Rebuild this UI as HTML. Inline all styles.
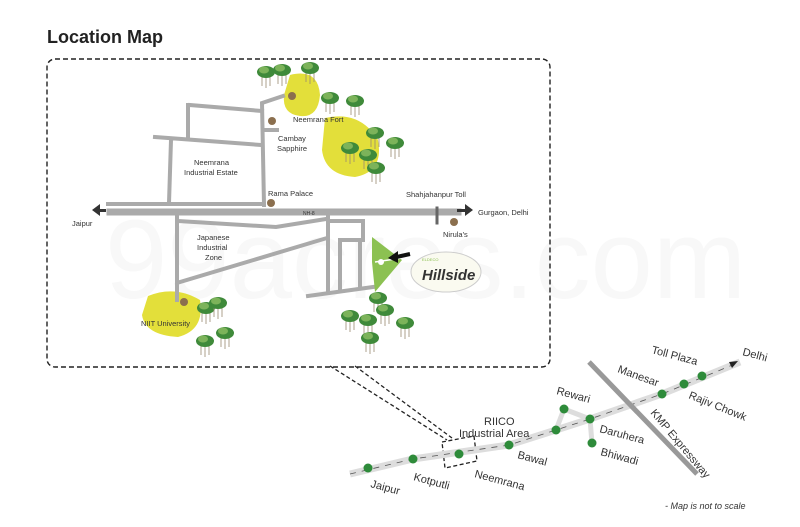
<!DOCTYPE html><html><head><style>body{margin:0;background:#fff}svg{display:block}text{font-family:"Liberation Sans",sans-serif}</style></head><body>
<svg width="800" height="527" viewBox="0 0 800 527" xmlns="http://www.w3.org/2000/svg">
<defs>
<g id="t"><g stroke="#9a8a70" stroke-width="0.8"><line x1="-4" y1="0" x2="-4" y2="12"/><line x1="0" y1="0" x2="0" y2="14"/><line x1="4" y1="0" x2="4" y2="12"/></g><ellipse cx="0" cy="-2" rx="9" ry="6" fill="#3f8a3a"/><ellipse cx="-2" cy="-4" rx="5" ry="3.5" fill="#7cb35a"/></g>
</defs>
<text x="47" y="43" font-size="18" font-weight="bold" fill="#222">Location Map</text>
<text x="105" y="298" font-size="112" fill="#f8f8f8">99acres.com</text>
<rect x="47" y="59" width="503" height="308" rx="8" fill="none" stroke="#222" stroke-width="1.4" stroke-dasharray="5,3"/>
<!-- yellow blobs -->
<path d="M290 75 Q318 68 320 95 Q318 118 300 116 Q282 114 284 95 Z" fill="#e3df3a"/>
<path d="M325 118 Q360 110 378 140 Q384 172 355 177 Q325 175 322 150 Z" fill="#e3df3a"/>
<path d="M148 296 Q175 285 200 300 Q205 330 178 337 Q145 335 142 315 Z" fill="#e3df3a"/>
<!-- roads -->
<g stroke="#aaa" fill="none" stroke-linecap="square">
<path d="M110 212 H458" stroke-width="7"/>
<path d="M108 204 H264" stroke-width="4"/>
<path d="M264 205 L262 103 L283 96" stroke-width="4"/>
<path d="M190 105 L262 111 M188 105 V138 M155 137 L261 145 M171 140 L169 203 M263 130 H277" stroke-width="4"/>
<path d="M177 214 V300 M178 221 L276 227 L326 219 M180 282 L327 238 M328 214 V292 M308 296 L373 287 M330 221 H363 V240 M340 240 V288 M340 240 H360 V287" stroke-width="4"/>
<path d="M437 208 V223" stroke="#666" stroke-width="3"/>
</g>
<polygon points="372,237 402,260 375,292 372,262" fill="#8cc152"/>
<line x1="375" y1="262" x2="402" y2="258" stroke="#fff" stroke-width="1.5"/><circle cx="381" cy="262" r="3" fill="#fff"/>
<path d="M392 258 L410 254" stroke="#111" stroke-width="4"/><polygon points="388,258 398,251 398,263" fill="#111"/>
<ellipse cx="446" cy="272" rx="35" ry="20" fill="#fafaf0" stroke="#ccc"/>
<text x="422" y="280" font-size="15" font-weight="bold" font-style="italic" fill="#333">Hillside</text>
<text x="422" y="261" font-size="4" fill="#8cc152">ELDECO</text>
<path d="M92 210 L100 204 V216 Z M100 209 H106 V212 H100Z" fill="#333"/>
<path d="M473 210 L465 204 V216 Z M457 209 H465 V212 H457Z" fill="#333"/>
<g fill="#8b6f4e"><circle cx="292" cy="96" r="4"/><circle cx="272" cy="121" r="4"/><circle cx="271" cy="203" r="4"/><circle cx="454" cy="222" r="4"/><circle cx="184" cy="302" r="4"/></g>
<g font-size="7.5" fill="#333">
<text x="293" y="122">Neemrana Fort</text><text x="278" y="141">Cambay</text><text x="277" y="151">Sapphire</text>
<text x="194" y="165">Neemrana</text><text x="184" y="175">Industrial Estate</text>
<text x="268" y="196">Rama Palace</text><text x="406" y="197">Shahjahanpur Toll</text>
<text x="478" y="215">Gurgaon, Delhi</text><text x="72" y="226">Jaipur</text><text x="443" y="237">Nirula's</text>
<text x="197" y="240">Japanese</text><text x="197" y="250">Industrial</text><text x="205" y="260">Zone</text>
<text x="141" y="326">NIIT University</text><text x="303" y="215" font-size="5">NH-8</text>
</g>
<!-- trees -->
<g>
<use href="#t" x="266" y="74"/><use href="#t" x="282" y="72"/><use href="#t" x="310" y="70"/>
<use href="#t" x="330" y="100"/><use href="#t" x="355" y="103"/><use href="#t" x="375" y="135"/><use href="#t" x="395" y="145"/>
<use href="#t" x="350" y="150"/><use href="#t" x="368" y="157"/><use href="#t" x="376" y="170"/>
<use href="#t" x="206" y="310"/><use href="#t" x="218" y="305"/><use href="#t" x="225" y="335"/><use href="#t" x="205" y="343"/>
<use href="#t" x="350" y="318"/><use href="#t" x="368" y="322"/><use href="#t" x="378" y="300"/><use href="#t" x="385" y="312"/><use href="#t" x="370" y="340"/><use href="#t" x="405" y="325"/>
</g>
<!-- connector dashes -->
<g stroke="#222" stroke-width="1.3" stroke-dasharray="4,2.5" fill="none">
<path d="M330 366 L447 440 M355 366 L452 438"/>
<polygon points="442,442 474,436 477,461 445,468"/>
</g>
<!-- route -->
<path d="M350 474 L413 459 L509 445 L556 430 L590 419 L662 394 L740 362" stroke="#ddd" stroke-width="7" fill="none"/>
<path d="M350 474 L413 459 L509 445 L556 430 L590 419 L662 394 L735 364" stroke="#555" stroke-width="0.8" stroke-dasharray="6,6" fill="none"/>
<polygon points="738,361 729,362 732,368" fill="#222"/>
<path d="M556 430 L564 409 L590 419 L592 443" stroke="#ddd" stroke-width="5" fill="none"/>
<line x1="589" y1="362" x2="697" y2="474" stroke="#999" stroke-width="5"/>
<g fill="#2e8b3a"><circle cx="368" cy="468" r="4.5"/><circle cx="413" cy="459" r="4.5"/><circle cx="459" cy="454" r="4.5"/><circle cx="509" cy="445" r="4.5"/><circle cx="556" cy="430" r="4.5"/><circle cx="564" cy="409" r="4.5"/><circle cx="590" cy="419" r="4.5"/><circle cx="592" cy="443" r="4.5"/><circle cx="662" cy="394" r="4.5"/><circle cx="684" cy="384" r="4.5"/><circle cx="702" cy="376" r="4.5"/></g>
<g font-size="11" fill="#333">
<text x="370" y="487" transform="rotate(15 370 487)">Jaipur</text>
<text x="413" y="480" transform="rotate(15 413 480)">Kotputli</text>
<text x="474" y="477" transform="rotate(15 474 477)">Neemrana</text>
<text x="517" y="458" transform="rotate(15 517 458)">Bawal</text>
<text x="484" y="425">RIICO</text><text x="459" y="437">Industrial Area</text>
<text x="556" y="394" transform="rotate(15 556 394)">Rewari</text>
<text x="599" y="432" transform="rotate(15 599 432)">Daruhera</text>
<text x="600" y="455" transform="rotate(15 600 455)">Bhiwadi</text>
<text x="617" y="372" transform="rotate(20 617 372)">Manesar</text>
<text x="688" y="398" transform="rotate(22 688 398)">Rajiv Chowk</text>
<text x="651" y="353" transform="rotate(15 651 353)">Toll Plaza</text>
<text x="742" y="355" transform="rotate(15 742 355)">Delhi</text>
<text x="650" y="413" transform="rotate(50 650 413)">KMP Expressway</text>
</g>
<text x="665" y="509" font-size="9" font-style="italic" fill="#333">- Map is not to scale</text>
</svg></body></html>
